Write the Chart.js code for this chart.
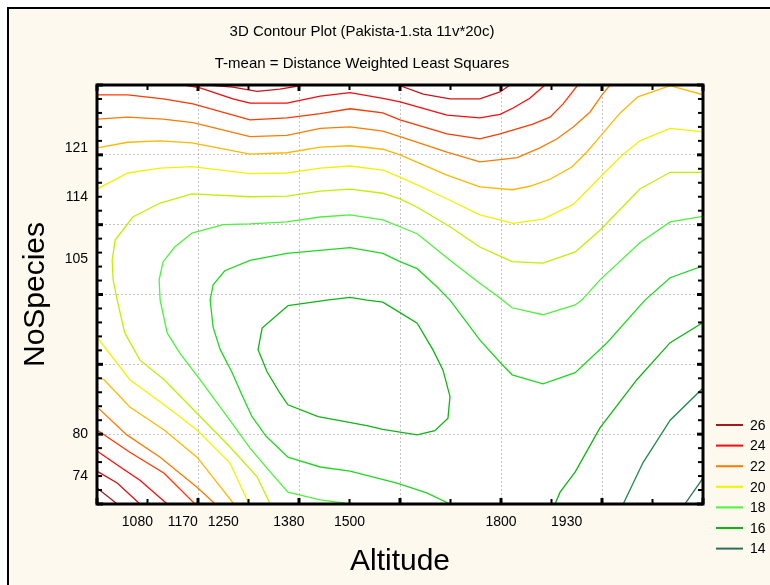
<!DOCTYPE html>
<html>
<head>
<meta charset="utf-8">
<script src="https://cdn.jsdelivr.net/npm/chart.js@4.4.0/dist/chart.umd.min.js"></script>
<style>
html,body{margin:0;padding:0;background:#fff;}
canvas{display:block;}
</style>
</head>
<body>
<canvas id="c" width="770" height="585"></canvas>
<script>
// ---- axis tick labels ----
const xTickLabels = [1080, 1170, 1250, 1380, 1500, 1800, 1930];
const yTickLabels = [74, 80, 105, 114, 121];
// ---- contour levels ----
const levels = [26, 25, 24, 23, 22, 21, 20, 19, 18, 17, 16, 15, 14];
const legendLevels = [26, 24, 22, 20, 18, 16, 14];
// ---- contour lines: [Altitude, NoSpecies] ----
const c26a = [[1000,72.3],[1040,70]];
const c25a = [[1220,130],[1269,129.7],[1317,129.1],[1362,129.4],[1410,130]];
const c25b = [[1596,130],[1646,128.7],[1699,128.0],[1758,128.0],[1798,129.0],[1818,130]];
const c25c = [[1000,74.7],[1040,73.0],[1085,70]];
const c24a = [[1174,130],[1204,129.6],[1269,128.0],[1303,127.4],[1376,127.4],[1442,128.4],[1501,128.9],[1566,128.1],[1600,127.6],[1693,125.7],[1758,125.3],[1798,125.8],[1824,126.7],[1857,128.1],[1887,130]];
const c24b = [[1000,77.6],[1046,75.3],[1085,73.4],[1139,70]];
const c23a = [[1000,128.6],[1061,128.6],[1131,128.0],[1190,127.3],[1303,125.0],[1376,125.3],[1442,125.9],[1501,126.6],[1566,126.0],[1600,125.0],[1693,123.0],[1758,122.3],[1798,123.0],[1863,124.4],[1897,125.4],[1923,127.3],[1952,130]];
const c23b = [[1000,80.6],[1065,77.4],[1133,74.4],[1194,70]];
const c22a = [[1000,125.1],[1061,125.4],[1131,125.1],[1190,124.6],[1303,122.6],[1376,122.8],[1442,123.8],[1501,124.0],[1566,123.4],[1600,122.6],[1693,120.4],[1758,119.0],[1798,119.3],[1832,119.6],[1877,121.0],[1911,122.3],[1943,124.0],[1976,126.1],[2000,128.6],[2016,130]];
const c22b = [[1000,83.9],[1059,79.9],[1125,76.7],[1198,72.4],[1234,70]];
const c21a = [[1000,121.0],[1061,121.8],[1125,122.0],[1188,121.7],[1303,120.1],[1376,120.3],[1442,121.1],[1501,121.3],[1566,120.8],[1600,120.0],[1693,117.1],[1758,115.4],[1822,115.0],[1857,115.5],[1897,116.5],[1941,118.3],[1970,120.4],[1996,122.6],[2036,126.0],[2071,128.3],[2135,129.9],[2200,128.6]];
const c21b = [[1000,88.2],[1014,87.8],[1065,83.9],[1133,80.6],[1198,76.7],[1271,70]];
const c20a = [[1000,115.1],[1061,117.4],[1125,118.1],[1188,118.3],[1303,117.3],[1376,117.4],[1442,118.1],[1501,118.4],[1566,117.8],[1600,116.8],[1634,115.7],[1699,113.5],[1758,111.4],[1798,110.7],[1824,110.2],[1883,110.8],[1943,112.9],[1996,116.8],[2036,119.7],[2075,122.0],[2135,123.8],[2200,123.3]];
const c20b = [[1000,93.9],[1065,87.8],[1133,84.2],[1198,80.6],[1263,75.9],[1301,70]];
const c19 = [[1343,70],[1317,73.9],[1263,78.2],[1198,83.0],[1133,87.8],[1085,90.6],[1055,94.5],[1040,99.2],[1032,102.1],[1030,104.9],[1036,107.8],[1071,111.1],[1125,113.1],[1188,114.4],[1303,114.0],[1376,114.1],[1442,114.8],[1501,115.1],[1566,114.5],[1600,113.7],[1634,112.5],[1699,109.7],[1758,106.8],[1798,105.5],[1822,104.7],[1883,104.5],[1947,106.1],[1996,109.2],[2075,115.1],[2135,117.5],[2200,117.5]];
const c18 = [[1501,70],[1442,70.6],[1378,71.7],[1343,74.6],[1303,78.0],[1263,82.0],[1204,87.8],[1164,91.6],[1139,94.5],[1125,99.2],[1123,102.1],[1131,104.7],[1154,106.8],[1188,108.8],[1250,110.0],[1303,110.1],[1376,110.4],[1442,111.1],[1501,111.4],[1566,110.7],[1600,109.7],[1634,108.7],[1699,104.9],[1758,101.6],[1798,99.5],[1822,98.1],[1883,97.1],[1947,98.5],[1960,99.2],[1996,102.1],[2075,107.4],[2135,110.4],[2200,111.2]];
const c17 = [[1699,70],[1653,71.6],[1594,73.0],[1501,74.7],[1442,75.3],[1378,76.7],[1335,79.7],[1307,82.5],[1287,85.6],[1267,88.9],[1244,92.1],[1230,95.3],[1224,99.2],[1230,101.4],[1253,103.4],[1303,104.9],[1376,105.9],[1501,106.7],[1566,105.9],[1600,104.7],[1634,103.7],[1673,101.1],[1699,99.2],[1758,93.5],[1798,90.3],[1822,88.5],[1883,87.2],[1947,88.8],[2010,93.1],[2085,99.2],[2135,102.4],[2200,104.1]];
const c16a = [[1378,98.4],[1455,99.2],[1501,99.6],[1535,99.2],[1566,98.9],[1600,97.4],[1634,95.9],[1665,92.1],[1685,89.2],[1699,85.4],[1695,82.3],[1669,80.5],[1634,79.9],[1566,80.7],[1537,81.2],[1438,82.5],[1378,84.2],[1362,85.9],[1337,88.9],[1319,92.1],[1327,95.2],[1378,98.4]];
const c16b = [[1907,70],[1917,71.7],[1947,74.6],[1996,80.9],[2069,87.8],[2135,93.1],[2200,96.0]];
const c15 = [[2042,70],[2081,75.9],[2135,82.0],[2200,86.6]];
const c14 = [[2164,70],[2200,73.7]];

const contourSegments = [
  [26,c26a],[25,c25a],[25,c25b],[25,c25c],[24,c24a],[24,c24b],[23,c23a],[23,c23b],
  [22,c22a],[22,c22b],[21,c21a],[21,c21b],[20,c20a],[20,c20b],[19,c19],[18,c18],
  [17,c17],[16,c16a],[16,c16b],[15,c15],[14,c14]
];

// ---- styles ----
const levelColors = {26:'#a01c1c',25:'#cc1418',24:'#ff0a0a',23:'#ff3a00',22:'#ff7a00',21:'#ffb800',20:'#f2f200',19:'#c0f000',18:'#4cf23c',17:'#20d820',16:'#10b414',15:'#1e8a48',14:'#2d6e5c'};
const FONT = '"Liberation Sans", Arial, sans-serif';
const X_MIN = 1000, X_MAX = 2200, X_MINOR = 100, X_MAJOR = 200;
const Y_MIN = 70, Y_MAX = 130, Y_MINOR = 2, Y_MAJOR = 10;

Chart.defaults.font.family = FONT;
Chart.defaults.color = '#000';

const datasets = contourSegments.map(([lv, pts]) => ({
  label: String(lv),
  data: pts.map(p => ({x: p[0], y: p[1]})),
  showLine: true,
  borderColor: levelColors[lv],
  backgroundColor: levelColors[lv],
  borderWidth: 1.3,
  pointRadius: 0,
  pointHoverRadius: 0,
  tension: 0,
  fill: false,
  xAxisID: 'x',
  yAxisID: 'y'
}));

const bgPlugin = {
  id: 'bg',
  beforeDraw(chart) {
    const {ctx, chartArea: a} = chart;
    ctx.save();
    ctx.fillStyle = '#ffffff';
    ctx.fillRect(0, 0, chart.width, chart.height);
    ctx.fillStyle = '#fdf9ef';
    ctx.fillRect(9, 9, chart.width - 9, chart.height - 9);
    ctx.fillStyle = '#000';
    ctx.fillRect(7, 7, 2, chart.height - 7);
    ctx.fillRect(7, 7, chart.width - 7, 2);
    ctx.fillStyle = '#ffffff';
    ctx.fillRect(a.left, a.top, a.right - a.left, a.bottom - a.top);
    ctx.restore();
  }
};

const framePlugin = {
  id: 'frame',
  afterDatasetsDraw(chart) {
    const {ctx, chartArea: a, scales} = chart;
    const xs = scales.x, ys = scales.y;
    ctx.save();
    ctx.fillStyle = '#000';
    for (let v = X_MIN; v <= X_MAX; v += X_MINOR) {
      const px = xs.getPixelForValue(v);
      const major = (v - X_MIN) % X_MAJOR === 0;
      const w = major ? 3 : 2, len = major ? 6 : 5;
      ctx.fillRect(px - w / 2, a.top, w, len);
      ctx.fillRect(px - w / 2, a.bottom - len, w, len);
    }
    for (let v = Y_MIN; v <= Y_MAX; v += Y_MINOR) {
      const py = ys.getPixelForValue(v);
      const major = (v - Y_MIN) % Y_MAJOR === 0;
      const w = major ? 3 : 2, len = major ? 6 : 5;
      ctx.fillRect(a.left, py - w / 2, len, w);
      ctx.fillRect(a.right - len, py - w / 2, len, w);
    }
    ctx.lineWidth = 3;
    ctx.strokeStyle = '#000';
    ctx.strokeRect(a.left, a.top, a.right - a.left, a.bottom - a.top);
    ctx.restore();
  }
};

const legendPlugin = {
  id: 'contourLegend',
  afterDraw(chart) {
    const {ctx, chartArea: a} = chart;
    ctx.save();
    ctx.font = '14px ' + FONT;
    ctx.textBaseline = 'middle';
    ctx.textAlign = 'left';
    legendLevels.forEach((lv, i) => {
      const y = a.bottom - 79 + i * 20.6;
      ctx.strokeStyle = levelColors[lv];
      ctx.lineWidth = 2;
      ctx.beginPath();
      ctx.moveTo(a.right + 13, y);
      ctx.lineTo(a.right + 40, y);
      ctx.stroke();
      ctx.fillStyle = '#000';
      ctx.fillText(String(lv), a.right + 47, y + 1);
    });
    ctx.restore();
  }
};

new Chart(document.getElementById('c'), {
  type: 'scatter',
  data: { datasets },
  options: {
    responsive: false,
    maintainAspectRatio: false,
    devicePixelRatio: 1,
    animation: false,
    events: [],
    layout: { padding: { left: 0, right: 46, top: 0, bottom: 0 } },
    plugins: {
      legend: { display: false },
      tooltip: { enabled: false },
      title: {
        display: true,
        text: '3D Contour Plot (Pakista-1.sta 11v*20c)',
        color: '#000',
        font: { family: FONT, size: 15, weight: 'normal' },
        padding: { top: 23, bottom: 0 }
      },
      subtitle: {
        display: true,
        text: 'T-mean = Distance Weighted Least Squares',
        color: '#000',
        font: { family: FONT, size: 15, weight: 'normal' },
        padding: { top: 14, bottom: 0 }
      }
    },
    scales: {
      x: {
        type: 'linear', position: 'bottom', min: X_MIN, max: X_MAX,
        afterBuildTicks: (s) => { s.ticks = xTickLabels.map(v => ({ value: v })); },
        ticks: { autoSkip: false, maxRotation: 0, padding: 10, color: '#000',
                 font: { family: FONT, size: 14 }, callback: (v) => String(v) },
        grid: { display: false, drawTicks: false },
        border: { display: false },
        title: { display: true, text: 'Altitude', color: '#000',
                 font: { family: FONT, size: 30 }, padding: { top: 0, bottom: 5 } },
        afterFit: (s) => { s.height = 81; }
      },
      xg: {
        type: 'linear', position: 'top', min: X_MIN, max: X_MAX,
        ticks: { display: false, stepSize: X_MAJOR },
        grid: { display: true, drawTicks: false, color: '#c4c4c4', lineWidth: 1 },
        border: { display: false, dash: [2, 2] },
        afterFit: (s) => { s.height = 12; }
      },
      y: {
        type: 'linear', position: 'left', min: Y_MIN, max: Y_MAX,
        afterBuildTicks: (s) => { s.ticks = yTickLabels.map(v => ({ value: v })); },
        ticks: { autoSkip: false, padding: 9, color: '#000',
                 font: { family: FONT, size: 14 }, callback: (v) => String(v) },
        grid: { display: false, drawTicks: false },
        border: { display: false },
        title: { display: true, text: 'NoSpecies', color: '#000',
                 font: { family: FONT, size: 30 }, padding: { top: 18, bottom: 0 } },
        afterFit: (s) => { s.width = 97; }
      },
      yg: {
        type: 'linear', position: 'right', min: Y_MIN, max: Y_MAX,
        ticks: { display: false, stepSize: Y_MAJOR },
        grid: { display: true, drawTicks: false, color: '#c4c4c4', lineWidth: 1 },
        border: { display: false, dash: [2, 2] },
        afterFit: (s) => { s.width = 21; }
      }
    }
  },
  plugins: [bgPlugin, framePlugin, legendPlugin]
});
</script>
</body>
</html>
